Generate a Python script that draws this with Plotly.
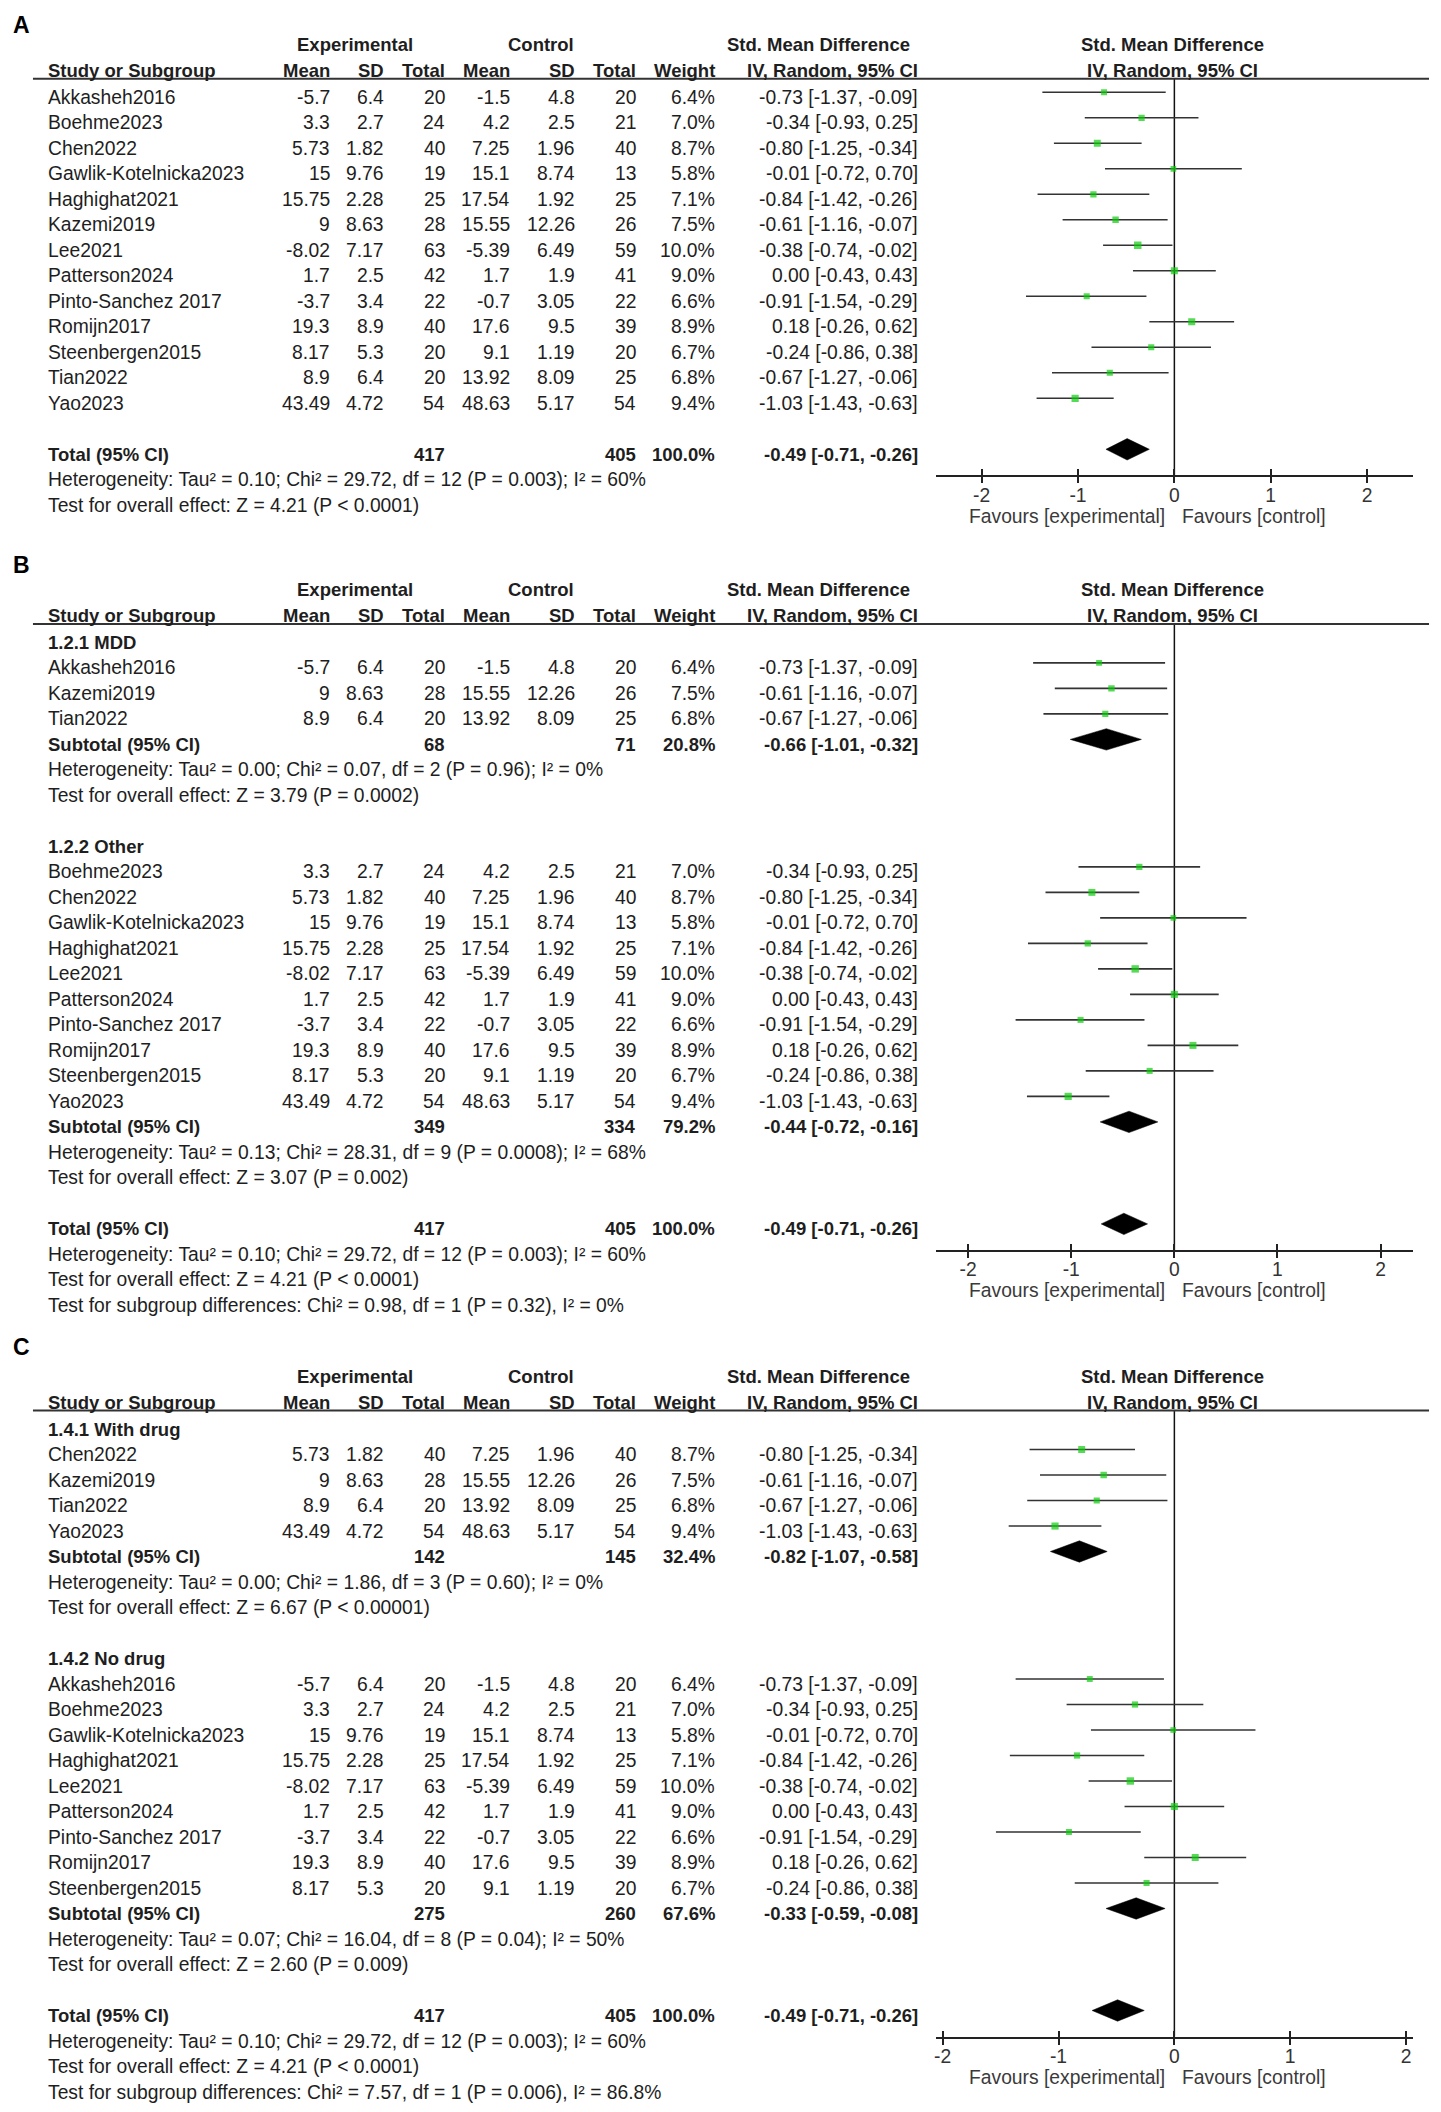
import math
import plotly.graph_objects as go

W, H = 1441, 2112

# ---------------- data ----------------
studies = ["Akkasheh2016", "Boehme2023", "Chen2022", "Gawlik-Kotelnicka2023", "Haghighat2021",
           "Kazemi2019", "Lee2021", "Patterson2024", "Pinto-Sanchez 2017", "Romijn2017",
           "Steenbergen2015", "Tian2022", "Yao2023"]
exp_mean = [-5.7, 3.3, 5.73, 15, 15.75, 9, -8.02, 1.7, -3.7, 19.3, 8.17, 8.9, 43.49]
exp_sd = [6.4, 2.7, 1.82, 9.76, 2.28, 8.63, 7.17, 2.5, 3.4, 8.9, 5.3, 6.4, 4.72]
exp_n = [20, 24, 40, 19, 25, 28, 63, 42, 22, 40, 20, 20, 54]
ctl_mean = [-1.5, 4.2, 7.25, 15.1, 17.54, 15.55, -5.39, 1.7, -0.7, 17.6, 9.1, 13.92, 48.63]
ctl_sd = [4.8, 2.5, 1.96, 8.74, 1.92, 12.26, 6.49, 1.9, 3.05, 9.5, 1.19, 8.09, 5.17]
ctl_n = [20, 21, 40, 13, 25, 26, 59, 41, 22, 39, 20, 25, 54]
weights = [6.4, 7.0, 8.7, 5.8, 7.1, 7.5, 10.0, 9.0, 6.6, 8.9, 6.7, 6.8, 9.4]
smd = [-0.73, -0.34, -0.80, -0.01, -0.84, -0.61, -0.38, 0.00, -0.91, 0.18, -0.24, -0.67, -1.03]
ci_lo = [-1.37, -0.93, -1.25, -0.72, -1.42, -1.16, -0.74, -0.43, -1.54, -0.26, -0.86, -1.27, -1.43]
ci_hi = [-0.09, 0.25, -0.34, 0.70, -0.26, -0.07, -0.02, 0.43, -0.29, 0.62, 0.38, -0.06, -0.63]

# overall
total_exp_n = 417
total_ctl_n = 405
total_weight = 100.0
total_smd = -0.49
total_lo = -0.71
total_hi = -0.26
total_het = "Heterogeneity: Tau² = 0.10; Chi² = 29.72, df = 12 (P = 0.003); I² = 60%"
total_test = "Test for overall effect: Z = 4.21 (P < 0.0001)"

# panel B subgroups
B_titles = ["1.2.1 MDD", "1.2.2 Other"]
B_members = [["Akkasheh2016", "Kazemi2019", "Tian2022"],
             ["Boehme2023", "Chen2022", "Gawlik-Kotelnicka2023", "Haghighat2021", "Lee2021",
              "Patterson2024", "Pinto-Sanchez 2017", "Romijn2017", "Steenbergen2015", "Yao2023"]]
B_sub_exp_n = [68, 349]
B_sub_ctl_n = [71, 334]
B_sub_weight = [20.8, 79.2]
B_sub_smd = [-0.66, -0.44]
B_sub_lo = [-1.01, -0.72]
B_sub_hi = [-0.32, -0.16]
B_sub_het = ["Heterogeneity: Tau² = 0.00; Chi² = 0.07, df = 2 (P = 0.96); I² = 0%",
             "Heterogeneity: Tau² = 0.13; Chi² = 28.31, df = 9 (P = 0.0008); I² = 68%"]
B_sub_test = ["Test for overall effect: Z = 3.79 (P = 0.0002)",
              "Test for overall effect: Z = 3.07 (P = 0.002)"]
B_diff = "Test for subgroup differences: Chi² = 0.98, df = 1 (P = 0.32), I² = 0%"

# panel C subgroups
C_titles = ["1.4.1 With drug", "1.4.2 No drug"]
C_members = [["Chen2022", "Kazemi2019", "Tian2022", "Yao2023"],
             ["Akkasheh2016", "Boehme2023", "Gawlik-Kotelnicka2023", "Haghighat2021", "Lee2021",
              "Patterson2024", "Pinto-Sanchez 2017", "Romijn2017", "Steenbergen2015"]]
C_sub_exp_n = [142, 275]
C_sub_ctl_n = [145, 260]
C_sub_weight = [32.4, 67.6]
C_sub_smd = [-0.82, -0.33]
C_sub_lo = [-1.07, -0.59]
C_sub_hi = [-0.58, -0.08]
C_sub_het = ["Heterogeneity: Tau² = 0.00; Chi² = 1.86, df = 3 (P = 0.60); I² = 0%",
             "Heterogeneity: Tau² = 0.07; Chi² = 16.04, df = 8 (P = 0.04); I² = 50%"]
C_sub_test = ["Test for overall effect: Z = 6.67 (P < 0.00001)",
              "Test for overall effect: Z = 2.60 (P = 0.009)"]
C_diff = "Test for subgroup differences: Chi² = 7.57, df = 1 (P = 0.006), I² = 86.8%"

tick_vals = [-2, -1, 0, 1, 2]
tick_text = ["-2", "-1", "0", "1", "2"]

# ---------------- layout constants ----------------
FONT = "Liberation Sans, Arial, sans-serif"
FS = 19.3
FSB = 18.5
TXT = "#1e1e1e"
GREEN = "#0fcc0f"
ROW_H = 25.5
MARK_SHIFT = 5
COL_NAME, COL_EM, COL_ESD, COL_EN = 46, 328, 383, 444
COL_CM, COL_CSD, COL_CN, COL_W, COL_CI = 509, 574, 635, 714, 917
FOREST_L, FOREST_R, ZERO_X = 935, 1413, 1174

annotations = []
shapes = []
traces = []


def T(x, y, s, xanchor="right", bold=False, size=None, color=TXT):
    if size is None:
        size = FSB if bold else FS
    if bold:
        s = "<b>" + s + "</b>"
    annotations.append(dict(x=x, y=y, xref="x", yref="y", text=s, showarrow=False,
                            xanchor=xanchor, yanchor="middle", borderpad=0, borderwidth=0,
                            font=dict(size=size, color=color, family=FONT)))


def ci_str(e, l, h):
    return f"{e:.2f} [{l:.2f}, {h:.2f}]"


def build_rows(groups, diff):
    rows = []
    for g in groups:
        if g["title"]:
            rows.append(("title", g["title"]))
        for nm in g["members"]:
            rows.append(("study", studies.index(nm)))
        if g["sub"] is not None:
            rows.append(("sub", g["sub"]))
            rows.append(("text", g["sub"]["het"]))
            rows.append(("text", g["sub"]["test"]))
        rows.append(("blank", None))
    rows.append(("total", None))
    rows.append(("text", total_het))
    rows.append(("text", total_test))
    if diff:
        rows.append(("text", diff))
    return rows


def sub_groups(titles, members, en, cn, w, e, lo, hi, het, test):
    out = []
    for i in range(len(titles)):
        out.append(dict(title=titles[i], members=members[i],
                        sub=dict(en=en[i], cn=cn[i], w=w[i], e=e[i], lo=lo[i], hi=hi[i],
                                 het=het[i], test=test[i])))
    return out


panels = [
    dict(label="A", label_y=24.5, Y0=97.3, xr=2.477,
         groups=[dict(title=None, members=studies, sub=None)], diff=None),
    dict(label="B", label_y=565, Y0=642.4, xr=2.315,
         groups=sub_groups(B_titles, B_members, B_sub_exp_n, B_sub_ctl_n, B_sub_weight,
                           B_sub_smd, B_sub_lo, B_sub_hi, B_sub_het, B_sub_test), diff=B_diff),
    dict(label="C", label_y=1347, Y0=1429, xr=2.06,
         groups=sub_groups(C_titles, C_members, C_sub_exp_n, C_sub_ctl_n, C_sub_weight,
                           C_sub_smd, C_sub_lo, C_sub_hi, C_sub_het, C_sub_test), diff=C_diff),
]

layout_axes = {}
# full canvas axis for the text table (pixel space)
layout_axes["xaxis"] = dict(domain=[0, 1], range=[0, W], visible=False, fixedrange=True)
layout_axes["yaxis"] = dict(domain=[0, 1], range=[H, 0], visible=False, fixedrange=True)
traces.append(go.Scatter(x=[None], y=[None], xaxis="x", yaxis="y", showlegend=False, hoverinfo="skip"))

DIAMOND_H = 0.42

for k, p in enumerate(panels):
    xa = f"x{k + 2}"
    ya = f"y{k + 2}"
    xo = f"x{k + 5}"
    Y0 = p["Y0"]
    rows = build_rows(p["groups"], p["diff"])

    # headers
    T(11, p["label_y"], p["label"], xanchor="left", bold=True, size=23, color="#000")
    h1 = Y0 - 53
    h2 = Y0 - 27
    T(353.5, h1, "Experimental", xanchor="center", bold=True)
    T(539.5, h1, "Control", xanchor="center", bold=True)
    T(909, h1, "Std. Mean Difference", bold=True)
    T(1172, h1, "Std. Mean Difference", xanchor="center", bold=True)
    T(COL_NAME, h2, "Study or Subgroup", xanchor="left", bold=True)
    for cx, s in [(COL_EM, "Mean"), (COL_ESD, "SD"), (COL_EN, "Total"), (COL_CM, "Mean"),
                  (COL_CSD, "SD"), (COL_CN, "Total"), (COL_W, "Weight"), (COL_CI, "IV, Random, 95% CI")]:
        T(cx, h2, s, bold=True)
    T(1172, h2, "IV, Random, 95% CI", xanchor="center", bold=True)
    line_y = Y0 - 18.5
    shapes.append(dict(type="line", xref="x", yref="y", x0=31, x1=1429, y0=line_y, y1=line_y,
                       line=dict(color="#333", width=2)))

    ci_x, ci_y = [], []
    mk_x, mk_y, mk_s = [], [], []
    dm_x, dm_y = [], []
    total_row = None
    for r, (kind, val) in enumerate(rows):
        ty = Y0 + ROW_H * r
        if kind == "title":
            T(COL_NAME, ty, val, xanchor="left", bold=True)
        elif kind == "study":
            i = val
            T(COL_NAME, ty, studies[i], xanchor="left")
            T(COL_EM, ty, f"{exp_mean[i]:g}")
            T(COL_ESD, ty, f"{exp_sd[i]:g}")
            T(COL_EN, ty, f"{exp_n[i]}")
            T(COL_CM, ty, f"{ctl_mean[i]:g}")
            T(COL_CSD, ty, f"{ctl_sd[i]:g}")
            T(COL_CN, ty, f"{ctl_n[i]}")
            T(COL_W, ty, f"{weights[i]:.1f}%")
            T(COL_CI, ty, ci_str(smd[i], ci_lo[i], ci_hi[i]))
            ci_x += [ci_lo[i], ci_hi[i], None]
            ci_y += [r, r, None]
            mk_x.append(smd[i])
            mk_y.append(r)
            mk_s.append(2.35 * math.sqrt(weights[i]))
        elif kind in ("sub", "total"):
            if kind == "sub":
                d = val
                lab, en, cn, w, e, lo, hi = "Subtotal (95% CI)", d["en"], d["cn"], d["w"], d["e"], d["lo"], d["hi"]
            else:
                lab, en, cn, w, e, lo, hi = ("Total (95% CI)", total_exp_n, total_ctl_n, total_weight,
                                             total_smd, total_lo, total_hi)
                total_row = r
            T(COL_NAME, ty, lab, xanchor="left", bold=True)
            T(COL_EN, ty, f"{en}", bold=True)
            T(COL_CN, ty, f"{cn}", bold=True)
            T(COL_W, ty, f"{w:.1f}%", bold=True)
            T(COL_CI, ty, ci_str(e, lo, hi), bold=True)
            dm_x += [lo, e, hi, e, lo, None]
            dm_y += [r, r - DIAMOND_H, r, r + DIAMOND_H, r, None]
        elif kind == "text":
            T(COL_NAME, ty, val, xanchor="left")

    # forest axes geometry
    top_pix = line_y
    axis_pix = Y0 + ROW_H * total_row + 21

    def px2row(pix):
        return (pix - Y0 + MARK_SHIFT) / ROW_H

    ydom = [1 - axis_pix / H, 1 - top_pix / H]
    xdom = [FOREST_L / W, FOREST_R / W]
    xr = [-p["xr"], p["xr"]]
    # main axis: line + downward ticks
    layout_axes[f"xaxis{k + 2}"] = dict(
        domain=xdom, range=xr, anchor=ya, showline=True, linecolor="#222", linewidth=2,
        ticks="outside", ticklen=6, tickwidth=1.5, tickcolor="#222", tickvals=tick_vals,
        showticklabels=False, showgrid=False, zeroline=False, fixedrange=True)
    # overlay axis: upward ticks + tick labels
    layout_axes[f"xaxis{k + 5}"] = dict(
        overlaying=xa, range=xr, anchor=ya, showline=False, ticks="inside", ticklen=6,
        tickwidth=1.5, tickcolor="#222", tickvals=tick_vals, ticktext=tick_text,
        showticklabels=True, ticklabelstandoff=6,
        tickfont=dict(size=FS, color="#333", family=FONT),
        showgrid=False, zeroline=False, fixedrange=True)
    layout_axes[f"yaxis{k + 2}"] = dict(
        domain=ydom, range=[px2row(axis_pix), px2row(top_pix)], anchor=xa, visible=False,
        showgrid=False, zeroline=False, fixedrange=True)

    shapes.append(dict(type="line", xref=xa, yref=f"{ya} domain", x0=0, x1=0, y0=0, y1=1,
                       line=dict(color="#111", width=1.5), layer="below"))

    traces.append(go.Scatter(x=ci_x, y=ci_y, xaxis=xa, yaxis=ya, mode="lines",
                             line=dict(color="#333", width=1.6), showlegend=False, hoverinfo="skip"))
    traces.append(go.Scatter(x=mk_x, y=mk_y, xaxis=xa, yaxis=ya, mode="markers",
                             marker=dict(symbol="square", size=mk_s, color=GREEN, line=dict(width=0)),
                             showlegend=False))
    traces.append(go.Scatter(x=dm_x, y=dm_y, xaxis=xa, yaxis=ya, mode="lines", fill="toself",
                             fillcolor="#000", line=dict(color="#000", width=0.5),
                             showlegend=False, hoverinfo="skip"))
    traces.append(go.Scatter(x=[None], y=[None], xaxis=xo, yaxis=ya, showlegend=False, hoverinfo="skip"))

    # favours labels
    fav_y = axis_pix + 41
    T(ZERO_X - 9, fav_y, "Favours [experimental]", xanchor="right", color="#3a3a3a")
    T(ZERO_X + 8, fav_y, "Favours [control]", xanchor="left", color="#3a3a3a")

fig = go.Figure(data=traces)
fig.update_layout(
    width=W, height=H, margin=dict(l=0, r=0, t=0, b=0),
    paper_bgcolor="white", plot_bgcolor="rgba(0,0,0,0)",
    showlegend=False, annotations=annotations, shapes=shapes,
    font=dict(family=FONT, size=FS, color=TXT),
    **layout_axes,
)
fig.write_html("out.html", config={"displayModeBar": False},
               post_script="document.body.style.margin='0';")
